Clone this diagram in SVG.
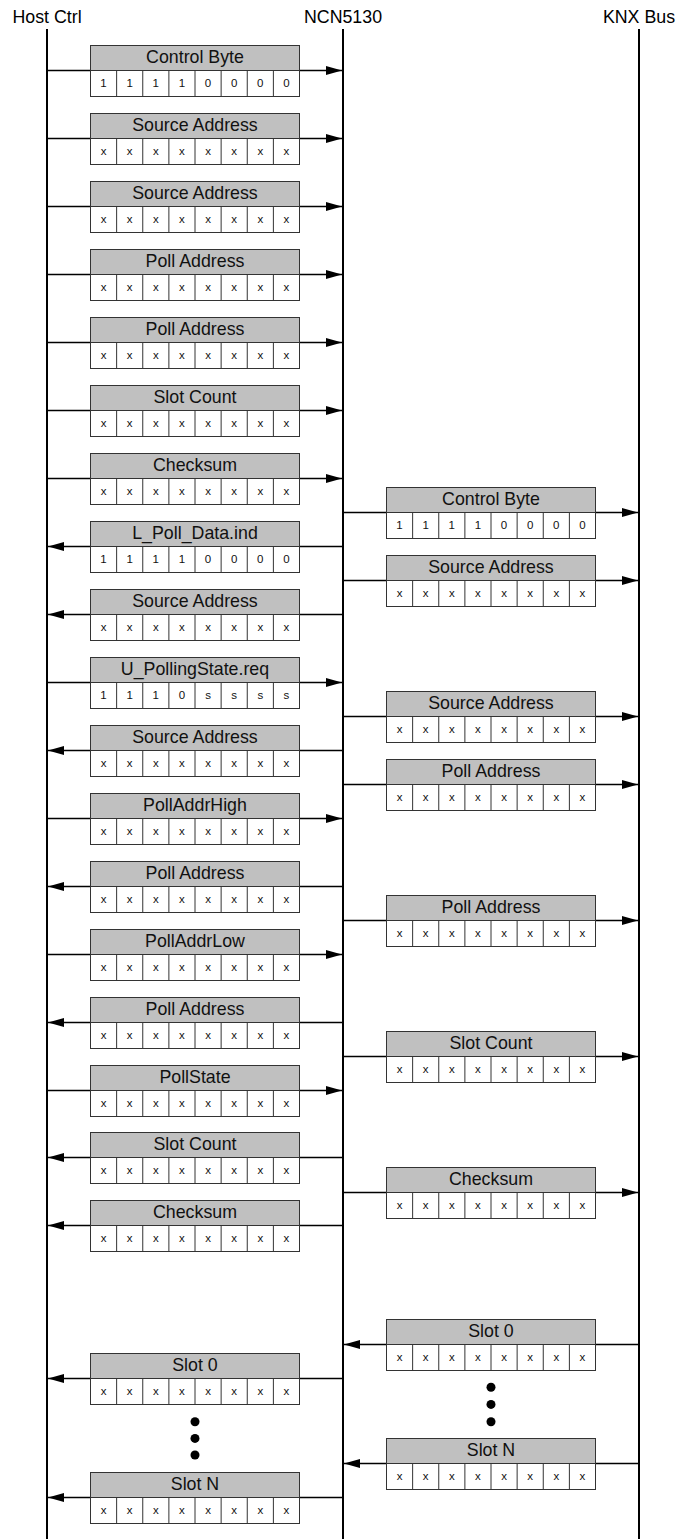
<svg xmlns="http://www.w3.org/2000/svg" xmlns:xlink="http://www.w3.org/1999/xlink" width="678" height="1539" viewBox="0 0 678 1539">
<style>
.ttl{font-family:"Liberation Sans",Arial,sans-serif;font-size:17.8px;fill:#000;text-anchor:middle}
.lb{font-family:"Liberation Sans",Arial,sans-serif;font-size:17.8px;fill:#111;text-anchor:middle}
.cv{font-family:"Liberation Sans",Arial,sans-serif;font-size:11.5px;fill:#111;text-anchor:middle}
.hd{fill:#c0c0c0;stroke:#333;stroke-width:1}
.cl{fill:#fff;stroke:#333;stroke-width:1}
.dv{stroke:#333;stroke-width:1;fill:none}
.life{stroke:#000;stroke-width:2;fill:none}
.msg{stroke:#000;stroke-width:1.7;fill:none;marker-end:url(#ah)}
.dot{fill:#000}
</style>
<defs>
<marker id="ah" markerUnits="userSpaceOnUse" markerWidth="16" markerHeight="10" viewBox="0 0 16 10" refX="16" refY="5" orient="auto"><path d="M0 0.5L16 5L0 9.5z" fill="#000"/></marker>
<g id="frame">
<rect class="hd" x="0" y="0" width="209" height="25"/>
<rect class="cl" x="0" y="25" width="209" height="26"/>
<path class="dv" d="M26.125 25v26M52.25 25v26M78.375 25v26M104.5 25v26M130.625 25v26M156.75 25v26M182.875 25v26"/>
</g>
</defs>
<rect width="678" height="1539" fill="#fff"/>
<g id="lifelines">
<text class="ttl" x="47" y="22.7">Host Ctrl</text>
<text class="ttl" x="343" y="22.7">NCN5130</text>
<text class="ttl" x="639" y="22.7">KNX Bus</text>
<path class="life" d="M47 29V1539M343 29V1539M639 29V1539"/>
</g>
<g id="connectors">
<path class="msg" d="M47 70.5H342"/>
<path class="msg" d="M47 138.5H342"/>
<path class="msg" d="M47 206.5H342"/>
<path class="msg" d="M47 274.5H342"/>
<path class="msg" d="M47 342.5H342"/>
<path class="msg" d="M47 410.5H342"/>
<path class="msg" d="M47 478.5H342"/>
<path class="msg" d="M343 546.5H48"/>
<path class="msg" d="M343 614.5H48"/>
<path class="msg" d="M47 682.5H342"/>
<path class="msg" d="M343 750.5H48"/>
<path class="msg" d="M47 818.5H342"/>
<path class="msg" d="M343 886.5H48"/>
<path class="msg" d="M47 954.5H342"/>
<path class="msg" d="M343 1022.5H48"/>
<path class="msg" d="M47 1090.5H342"/>
<path class="msg" d="M343 1157.5H48"/>
<path class="msg" d="M343 1225.5H48"/>
<path class="msg" d="M343 1378.5H48"/>
<path class="msg" d="M343 1497.5H48"/>
<path class="msg" d="M343 512.5H638"/>
<path class="msg" d="M343 580.5H638"/>
<path class="msg" d="M343 716.5H638"/>
<path class="msg" d="M343 784.5H638"/>
<path class="msg" d="M343 920.5H638"/>
<path class="msg" d="M343 1056.5H638"/>
<path class="msg" d="M343 1192.5H638"/>
<path class="msg" d="M639 1344.5H344"/>
<path class="msg" d="M639 1463.5H344"/>
</g>
<g id="L0" transform="translate(90.5,45.5)"><use xlink:href="#frame"/><text class="lb" x="104.5" y="17.8">Control Byte</text><text class="cv" x="13.06 39.19 65.31 91.44 117.56 143.69 169.81 195.94" y="41.6">11110000</text></g>
<g id="L1" transform="translate(90.5,113.5)"><use xlink:href="#frame"/><text class="lb" x="104.5" y="17.8">Source Address</text><text class="cv" x="13.06 39.19 65.31 91.44 117.56 143.69 169.81 195.94" y="41.6">xxxxxxxx</text></g>
<g id="L2" transform="translate(90.5,181.5)"><use xlink:href="#frame"/><text class="lb" x="104.5" y="17.8">Source Address</text><text class="cv" x="13.06 39.19 65.31 91.44 117.56 143.69 169.81 195.94" y="41.6">xxxxxxxx</text></g>
<g id="L3" transform="translate(90.5,249.5)"><use xlink:href="#frame"/><text class="lb" x="104.5" y="17.8">Poll Address</text><text class="cv" x="13.06 39.19 65.31 91.44 117.56 143.69 169.81 195.94" y="41.6">xxxxxxxx</text></g>
<g id="L4" transform="translate(90.5,317.5)"><use xlink:href="#frame"/><text class="lb" x="104.5" y="17.8">Poll Address</text><text class="cv" x="13.06 39.19 65.31 91.44 117.56 143.69 169.81 195.94" y="41.6">xxxxxxxx</text></g>
<g id="L5" transform="translate(90.5,385.5)"><use xlink:href="#frame"/><text class="lb" x="104.5" y="17.8">Slot Count</text><text class="cv" x="13.06 39.19 65.31 91.44 117.56 143.69 169.81 195.94" y="41.6">xxxxxxxx</text></g>
<g id="L6" transform="translate(90.5,453.5)"><use xlink:href="#frame"/><text class="lb" x="104.5" y="17.8">Checksum</text><text class="cv" x="13.06 39.19 65.31 91.44 117.56 143.69 169.81 195.94" y="41.6">xxxxxxxx</text></g>
<g id="L7" transform="translate(90.5,521.5)"><use xlink:href="#frame"/><text class="lb" x="104.5" y="17.8">L_Poll_Data.ind</text><text class="cv" x="13.06 39.19 65.31 91.44 117.56 143.69 169.81 195.94" y="41.6">11110000</text></g>
<g id="L8" transform="translate(90.5,589.5)"><use xlink:href="#frame"/><text class="lb" x="104.5" y="17.8">Source Address</text><text class="cv" x="13.06 39.19 65.31 91.44 117.56 143.69 169.81 195.94" y="41.6">xxxxxxxx</text></g>
<g id="L9" transform="translate(90.5,657.5)"><use xlink:href="#frame"/><text class="lb" x="104.5" y="17.8">U_PollingState.req</text><text class="cv" x="13.06 39.19 65.31 91.44 117.56 143.69 169.81 195.94" y="41.6">1110ssss</text></g>
<g id="L10" transform="translate(90.5,725.5)"><use xlink:href="#frame"/><text class="lb" x="104.5" y="17.8">Source Address</text><text class="cv" x="13.06 39.19 65.31 91.44 117.56 143.69 169.81 195.94" y="41.6">xxxxxxxx</text></g>
<g id="L11" transform="translate(90.5,793.5)"><use xlink:href="#frame"/><text class="lb" x="104.5" y="17.8">PollAddrHigh</text><text class="cv" x="13.06 39.19 65.31 91.44 117.56 143.69 169.81 195.94" y="41.6">xxxxxxxx</text></g>
<g id="L12" transform="translate(90.5,861.5)"><use xlink:href="#frame"/><text class="lb" x="104.5" y="17.8">Poll Address</text><text class="cv" x="13.06 39.19 65.31 91.44 117.56 143.69 169.81 195.94" y="41.6">xxxxxxxx</text></g>
<g id="L13" transform="translate(90.5,929.5)"><use xlink:href="#frame"/><text class="lb" x="104.5" y="17.8">PollAddrLow</text><text class="cv" x="13.06 39.19 65.31 91.44 117.56 143.69 169.81 195.94" y="41.6">xxxxxxxx</text></g>
<g id="L14" transform="translate(90.5,997.5)"><use xlink:href="#frame"/><text class="lb" x="104.5" y="17.8">Poll Address</text><text class="cv" x="13.06 39.19 65.31 91.44 117.56 143.69 169.81 195.94" y="41.6">xxxxxxxx</text></g>
<g id="L15" transform="translate(90.5,1065.5)"><use xlink:href="#frame"/><text class="lb" x="104.5" y="17.8">PollState</text><text class="cv" x="13.06 39.19 65.31 91.44 117.56 143.69 169.81 195.94" y="41.6">xxxxxxxx</text></g>
<g id="L16" transform="translate(90.5,1132.5)"><use xlink:href="#frame"/><text class="lb" x="104.5" y="17.8">Slot Count</text><text class="cv" x="13.06 39.19 65.31 91.44 117.56 143.69 169.81 195.94" y="41.6">xxxxxxxx</text></g>
<g id="L17" transform="translate(90.5,1200.5)"><use xlink:href="#frame"/><text class="lb" x="104.5" y="17.8">Checksum</text><text class="cv" x="13.06 39.19 65.31 91.44 117.56 143.69 169.81 195.94" y="41.6">xxxxxxxx</text></g>
<g id="L18" transform="translate(90.5,1353.5)"><use xlink:href="#frame"/><text class="lb" x="104.5" y="17.8">Slot 0</text><text class="cv" x="13.06 39.19 65.31 91.44 117.56 143.69 169.81 195.94" y="41.6">xxxxxxxx</text></g>
<g id="L19" transform="translate(90.5,1472.5)"><use xlink:href="#frame"/><text class="lb" x="104.5" y="17.8">Slot N</text><text class="cv" x="13.06 39.19 65.31 91.44 117.56 143.69 169.81 195.94" y="41.6">xxxxxxxx</text></g>
<g id="Ldots"><circle class="dot" cx="195" cy="1421.7" r="4.5"/><circle class="dot" cx="195" cy="1438.4" r="4.5"/><circle class="dot" cx="195" cy="1455" r="4.5"/></g>
<g id="R0" transform="translate(386.5,487.5)"><use xlink:href="#frame"/><text class="lb" x="104.5" y="17.8">Control Byte</text><text class="cv" x="13.06 39.19 65.31 91.44 117.56 143.69 169.81 195.94" y="41.6">11110000</text></g>
<g id="R1" transform="translate(386.5,555.5)"><use xlink:href="#frame"/><text class="lb" x="104.5" y="17.8">Source Address</text><text class="cv" x="13.06 39.19 65.31 91.44 117.56 143.69 169.81 195.94" y="41.6">xxxxxxxx</text></g>
<g id="R2" transform="translate(386.5,691.5)"><use xlink:href="#frame"/><text class="lb" x="104.5" y="17.8">Source Address</text><text class="cv" x="13.06 39.19 65.31 91.44 117.56 143.69 169.81 195.94" y="41.6">xxxxxxxx</text></g>
<g id="R3" transform="translate(386.5,759.5)"><use xlink:href="#frame"/><text class="lb" x="104.5" y="17.8">Poll Address</text><text class="cv" x="13.06 39.19 65.31 91.44 117.56 143.69 169.81 195.94" y="41.6">xxxxxxxx</text></g>
<g id="R4" transform="translate(386.5,895.5)"><use xlink:href="#frame"/><text class="lb" x="104.5" y="17.8">Poll Address</text><text class="cv" x="13.06 39.19 65.31 91.44 117.56 143.69 169.81 195.94" y="41.6">xxxxxxxx</text></g>
<g id="R5" transform="translate(386.5,1031.5)"><use xlink:href="#frame"/><text class="lb" x="104.5" y="17.8">Slot Count</text><text class="cv" x="13.06 39.19 65.31 91.44 117.56 143.69 169.81 195.94" y="41.6">xxxxxxxx</text></g>
<g id="R6" transform="translate(386.5,1167.5)"><use xlink:href="#frame"/><text class="lb" x="104.5" y="17.8">Checksum</text><text class="cv" x="13.06 39.19 65.31 91.44 117.56 143.69 169.81 195.94" y="41.6">xxxxxxxx</text></g>
<g id="R7" transform="translate(386.5,1319.5)"><use xlink:href="#frame"/><text class="lb" x="104.5" y="17.8">Slot 0</text><text class="cv" x="13.06 39.19 65.31 91.44 117.56 143.69 169.81 195.94" y="41.6">xxxxxxxx</text></g>
<g id="R8" transform="translate(386.5,1438.5)"><use xlink:href="#frame"/><text class="lb" x="104.5" y="17.8">Slot N</text><text class="cv" x="13.06 39.19 65.31 91.44 117.56 143.69 169.81 195.94" y="41.6">xxxxxxxx</text></g>
<g id="Rdots"><circle class="dot" cx="491" cy="1387.3" r="4.5"/><circle class="dot" cx="491" cy="1404.4" r="4.5"/><circle class="dot" cx="491" cy="1421.7" r="4.5"/></g>
</svg>
